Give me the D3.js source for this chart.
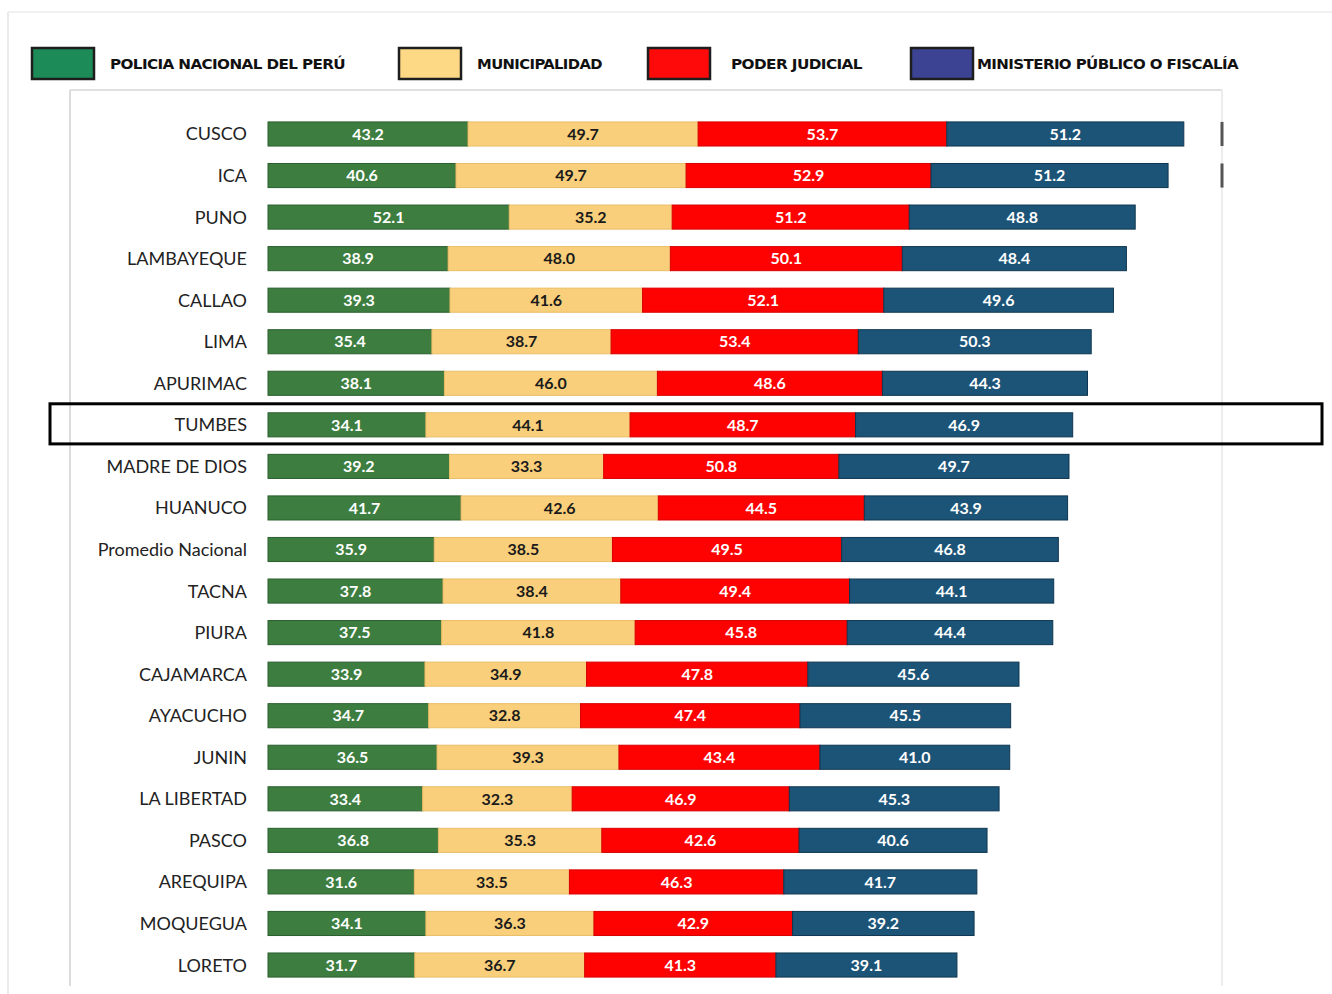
<!DOCTYPE html>
<html>
<head>
<meta charset="utf-8">
<script src="https://cdn.jsdelivr.net/npm/d3@7"></script>
<style>
  html, body { margin: 0; padding: 0; background: #ffffff; }
  svg { display: block; }
</style>
</head>
<body>
<svg id="chart" width="1332" height="994"></svg>
<script>
// ---- Data ----
const categories = ["CUSCO","ICA","PUNO","LAMBAYEQUE","CALLAO","LIMA","APURIMAC","TUMBES","MADRE DE DIOS","HUANUCO","Promedio Nacional","TACNA","PIURA","CAJAMARCA","AYACUCHO","JUNIN","LA LIBERTAD","PASCO","AREQUIPA","MOQUEGUA","LORETO"];
const seriesNames = ["POLICIA NACIONAL DEL PERÚ","MUNICIPALIDAD","PODER JUDICIAL","MINISTERIO PÚBLICO O FISCALÍA"];
const policia     = [43.2,40.6,52.1,38.9,39.3,35.4,38.1,34.1,39.2,41.7,35.9,37.8,37.5,33.9,34.7,36.5,33.4,36.8,31.6,34.1,31.7];
const municipal   = [49.7,49.7,35.2,48.0,41.6,38.7,46.0,44.1,33.3,42.6,38.5,38.4,41.8,34.9,32.8,39.3,32.3,35.3,33.5,36.3,36.7];
const judicial    = [53.7,52.9,51.2,50.1,52.1,53.4,48.6,48.7,50.8,44.5,49.5,49.4,45.8,47.8,47.4,43.4,46.9,42.6,46.3,42.9,41.3];
const ministerio  = [51.2,51.2,48.8,48.4,49.6,50.3,44.3,46.9,49.7,43.9,46.8,44.1,44.4,45.6,45.5,41.0,45.3,40.6,41.7,39.2,39.1];
const highlighted = "TUMBES";
const edgeMarked = ["CUSCO","ICA"];

// ---- Styles ----
const barColors    = ["#3d7e40","#f9cf7b","#fe0202","#1c5477"];
const barStrokes   = ["#2a5e2e","#e9bd66","#d80000","#0f3650"];
const labelColors  = ["#ffffff","#1a1a1a","#ffffff","#ffffff"];
const legendColors = ["#1d8b58","#fdd986","#ff0a0a","#3b4392"];

const svg = d3.select("#chart");

// outer faint frame
svg.append("line").attr("x1",8).attr("x2",8).attr("y1",12).attr("y2",994).attr("stroke","#e3e3e3").attr("stroke-width",1.5);
svg.append("line").attr("x1",8).attr("x2",1332).attr("y1",12).attr("y2",12).attr("stroke","#ececec").attr("stroke-width",1.5);

// plot frame
svg.append("line").attr("x1",70).attr("x2",1222).attr("y1",90).attr("y2",90).attr("stroke","#d6d6d6").attr("stroke-width",1.5);
svg.append("line").attr("x1",70).attr("x2",70).attr("y1",90).attr("y2",986).attr("stroke","#d0d0d0").attr("stroke-width",1.5);
svg.append("line").attr("x1",1222).attr("x2",1222).attr("y1",90).attr("y2",986).attr("stroke","#e6e6e6").attr("stroke-width",1.5);

// ---- Scales ----
const x = d3.scaleLinear().domain([0, 200]).range([268, 1194]);
const y = d3.scaleBand().domain(categories).range([113.2, 985.8]).paddingInner(0.42).paddingOuter(0.21);

const rows = categories.map((c, i) => ({cat: c, vals: [policia[i], municipal[i], judicial[i], ministerio[i]]}));
const stackData = rows.map(r => ({cat: r.cat, s0: r.vals[0], s1: r.vals[1], s2: r.vals[2], s3: r.vals[3]}));
const stack = d3.stack().keys(["s0","s1","s2","s3"]);
const layers = stack(stackData);

// ---- Bars ----
const g = svg.append("g");
layers.forEach((layer, li) => {
  const lg = g.append("g");
  lg.selectAll("rect").data(layer).join("rect")
    .attr("x", d => x(d[0]))
    .attr("y", d => y(d.data.cat))
    .attr("width", d => x(d[1]) - x(d[0]))
    .attr("height", y.bandwidth())
    .attr("fill", barColors[li])
    .attr("stroke", barStrokes[li])
    .attr("stroke-width", 1);
  lg.selectAll("text").data(layer).join("text")
    .attr("x", d => (x(d[0]) + x(d[1])) / 2)
    .attr("y", d => y(d.data.cat) + y.bandwidth() / 2)
    .attr("dy", "0.36em")
    .attr("text-anchor", "middle")
    .attr("font-family", "Lato, 'Open Sans', sans-serif")
    .attr("font-weight", "bold")
    .attr("font-size", 16)
    .attr("fill", labelColors[li])
    .text(d => (d[1] - d[0]).toFixed(1));
});

// ---- Category axis ----
const yAxis = d3.axisLeft(y).tickSize(0).tickPadding(0);
const ax = svg.append("g").attr("transform", "translate(247,0)").call(yAxis);
ax.select(".domain").remove();
ax.selectAll("text")
  .attr("font-family", "Lato, 'Open Sans', sans-serif")
  .attr("font-size", 18)
  .attr("fill", "#222")
  .attr("dy", "0.36em");

// edge marks at right frame
svg.selectAll("rect.edge").data(edgeMarked).join("rect")
  .attr("class","edge")
  .attr("x", 1220.5)
  .attr("y", d => y(d))
  .attr("width", 3)
  .attr("height", y.bandwidth())
  .attr("fill", "#555");

// highlight box
svg.append("rect")
  .attr("x", 50)
  .attr("y", y(highlighted) - 9)
  .attr("width", 1272)
  .attr("height", y.bandwidth() + 16)
  .attr("fill", "none")
  .attr("stroke", "#000")
  .attr("stroke-width", 3);

// ---- Legend ----
const legendX = [32, 399, 648, 911];
const legendTextX = [110, 477, 731, 977];
const legendTextW = [235, 125, 131, 261];
const lg = svg.append("g");
seriesNames.forEach((name, i) => {
  lg.append("rect")
    .attr("x", legendX[i]).attr("y", 48)
    .attr("width", 62).attr("height", 31)
    .attr("fill", legendColors[i])
    .attr("stroke", "#1e1e1e").attr("stroke-width", 2.5);
  lg.append("text")
    .attr("x", legendTextX[i]).attr("y", 69)
    .attr("font-family", "'DejaVu Sans Condensed', 'DejaVu Sans', sans-serif")
    .attr("font-weight", "bold")
    .attr("font-size", 14)
    .attr("fill", "#111")
    .attr("textLength", legendTextW[i])
    .attr("lengthAdjust", "spacingAndGlyphs")
    .attr("letter-spacing", "-0.5")
    .text(name);
});
</script>
</body>
</html>
